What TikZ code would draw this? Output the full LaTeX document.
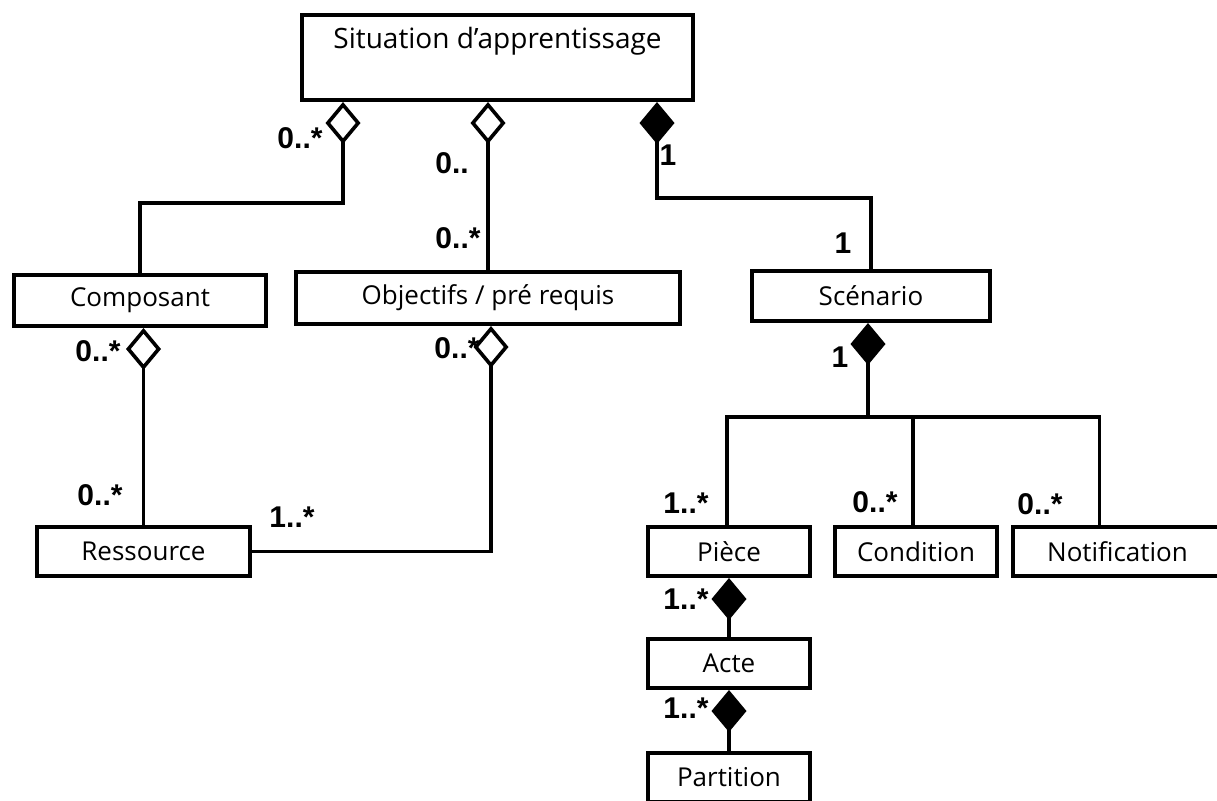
\documentclass[tikz,border=0pt]{standalone}
\usepackage{fontspec}
\setmainfont{Open Sans}
\newfontfamily\multfont{Liberation Sans}
\usetikzlibrary{arrows.meta}

\tikzset{
  classbox/.style={draw, line width=2pt, minimum height=24.5pt, inner sep=0pt,
    font=\fontsize{13}{15}\selectfont},
  mult/.style={inner sep=0pt, font=\multfont\bfseries\fontsize{15}{17}\selectfont},
  link/.style={line width=1.8pt},
  aggregation/.style={link, {Diamond[open, length=21pt, width=17.5pt]}-},
  composition/.style={link, {Diamond[length=21pt, width=17.5pt]}-},
}

\begin{document}
\begin{tikzpicture}[x=0.5pt, y=-0.5pt]
\clip (0,0) rectangle (1217,800);

% classes
\node[classbox, minimum width=195.5pt, minimum height=42.5pt] (sit) at (497.5,57.5) {};
\node[anchor=north, inner sep=0pt, font=\fontsize{14}{16}\selectfont] (sitname)
  at ([yshift=-7pt]sit.north) {Situation d'apprentissage};
\node[classbox, minimum width=126pt, minimum height=25.5pt] (compo) at (140,300.5) {Composant};
\node[classbox, minimum width=192pt, minimum height=26pt] (obj) at (488,298) {Objectifs / pré requis};
\node[classbox, minimum width=119pt, minimum height=25pt] (scen) at (871,296) {Scénario};
\node[classbox, minimum width=106.5pt] (res) at (143.5,551.5) {Ressource};
\node[classbox, minimum width=81pt] (piece) at (729,551.5) {Pièce};
\node[classbox, minimum width=81pt] (cond) at (916,551.5) {Condition};
\node[classbox, minimum width=104.5pt] (notif) at (1117.5,551.5) {Notification};
\node[classbox, minimum width=81pt] (acte) at (729,663.5) {Acte};
\node[classbox, minimum width=81pt] (part) at (729,777.5) {Partition};

% associations
\draw[aggregation] (sit.south -| 343,0) -- ++(0,101) -| (compo.north);
\draw[aggregation] (sit.south -| obj.north) -- (obj.north);
\draw[composition] (sit.south -| 657,0) -- ++(0,96) -| (scen.north);
\draw[aggregation] (res.north |- compo.south) -- (res.north);
\draw[aggregation] ([xshift=1.5pt]obj.south) |- (res.east);

\coordinate (fork) at (868,417);
\draw[composition] (scen.south -| fork) -- (fork);
\draw[link] ([xshift=-1pt]piece.north) |- (fork) -| ([xshift=-9pt]notif.north);
\draw[link] ([xshift=-1.5pt]cond.north) -- ([xshift=-1.5pt]cond.north |- fork);
\draw[composition] (piece.south) -- (acte.north);
\draw[composition] (acte.south) -- (part.north);

% multiplicities
\node[mult] (m1) at (300,138) {0..*};
\node[mult] (m2) at (452,163) {0..};
\node[mult] (m3) at (458,238) {0..*};
\node[mult] (m4) at (668,155) {1};
\node[mult] (m5) at (843,243) {1};
\node[mult] (m6) at (98,351) {0..*};
\node[mult] (m7) at (457,348) {0..*};
\node[mult] (m8) at (100,495) {0..*};
\node[mult] (m9) at (292,517) {1..*};
\node[mult] (m10) at (840,357) {1};
\node[mult] (m11) at (686,503) {1..*};
\node[mult] (m12) at (875,502) {0..*};
\node[mult] (m13) at (1040,504) {0..*};
\node[mult] (m14) at (686,599) {1..*};
\node[mult] (m15) at (686,708) {1..*};
\end{tikzpicture}
\end{document}
